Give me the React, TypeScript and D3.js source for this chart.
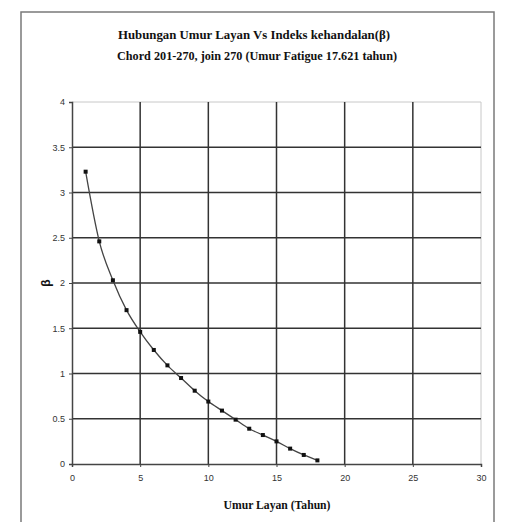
import React, { useRef, useEffect } from 'react';
import * as d3 from 'd3';

const years = [1, 2, 3, 4, 5, 6, 7, 8, 9, 10, 11, 12, 13, 14, 15, 16, 17, 18];
const beta = [3.23, 2.46, 2.03, 1.7, 1.46, 1.26, 1.09, 0.95, 0.81, 0.69, 0.59, 0.49, 0.39, 0.32, 0.25, 0.17, 0.1, 0.04];
const xTicks = [0, 5, 10, 15, 20, 25, 30];
const yTicks = [0, 0.5, 1, 1.5, 2, 2.5, 3, 3.5, 4];

const W = 505;
const H = 522;

const App = () => {
  const svgRef = useRef<SVGSVGElement>(null);

  useEffect(() => {
    const svg = d3.select(svgRef.current);
    svg.selectAll('*').remove();

    const margin = { top: 102, right: 24, bottom: 58, left: 72 };
    const x = d3.scaleLinear().domain([0, 30]).range([margin.left, W - margin.right]);
    const y = d3.scaleLinear().domain([0, 4]).range([H - margin.bottom, margin.top]);

    svg.append('rect').attr('width', W).attr('height', H).attr('fill', '#fff');

    // outer frame
    svg.append('rect')
      .attr('x', 21).attr('y', 12)
      .attr('width', 473).attr('height', 520)
      .attr('fill', 'none')
      .attr('stroke', '#7a7a7a')
      .attr('stroke-width', 1.5);

    // top / right plot border (light)
    svg.append('path')
      .attr('d', `M${x(0)},${y(4)}H${x(30)}V${y(0)}`)
      .attr('fill', 'none')
      .attr('stroke', '#c8c8c8')
      .attr('stroke-width', 1);

    // grid
    svg.append('g').selectAll('line')
      .data(yTicks.filter(d => d > 0 && d < 4))
      .join('line')
      .attr('x1', x(0)).attr('x2', x(30))
      .attr('y1', d => y(d)).attr('y2', d => y(d))
      .attr('stroke', '#333').attr('stroke-width', 1.5);

    svg.append('g').selectAll('line')
      .data(xTicks.filter(d => d > 0 && d < 30))
      .join('line')
      .attr('y1', y(0)).attr('y2', y(4))
      .attr('x1', d => x(d)).attr('x2', d => x(d))
      .attr('stroke', '#333').attr('stroke-width', 1.5);

    // axes
    const yAxis = svg.append('g')
      .attr('transform', `translate(${x(0)},0)`)
      .call(d3.axisLeft(y).tickValues(yTicks).tickSize(3).tickPadding(4).tickFormat(d => String(d)));
    const xAxis = svg.append('g')
      .attr('transform', `translate(0,${y(0)})`)
      .call(d3.axisBottom(x).tickValues(xTicks).tickSize(3).tickPadding(8));
    [yAxis, xAxis].forEach(g => {
      g.select('.domain').attr('stroke', '#444').attr('stroke-width', 1.5);
      g.selectAll('.tick line').attr('stroke', '#444');
      g.selectAll('.tick text')
        .attr('font-family', 'Arial, Liberation Sans, sans-serif')
        .attr('font-size', 9)
        .attr('fill', '#333');
    });

    // series
    const line = d3.line<number>()
      .x((d, i) => x(years[i]))
      .y(d => y(d))
      .curve(d3.curveMonotoneX);

    svg.append('path')
      .datum(beta)
      .attr('fill', 'none')
      .attr('stroke', '#444')
      .attr('stroke-width', 1.3)
      .attr('d', line);

    svg.append('g').selectAll('rect')
      .data(beta)
      .join('rect')
      .attr('x', (d, i) => x(years[i]) - 2)
      .attr('y', d => y(d) - 2)
      .attr('width', 4).attr('height', 4)
      .attr('fill', '#111');

    // titles
    const serif = 'Liberation Serif, Times New Roman, serif';
    svg.append('text')
      .attr('x', 254).attr('y', 39)
      .attr('text-anchor', 'middle')
      .attr('font-family', serif).attr('font-weight', 'bold').attr('font-size', 13)
      .attr('textLength', 272).attr('lengthAdjust', 'spacingAndGlyphs')
      .attr('fill', '#111')
      .text('Hubungan Umur Layan Vs Indeks kehandalan(β)');
    svg.append('text')
      .attr('x', 257).attr('y', 60)
      .attr('text-anchor', 'middle')
      .attr('font-family', serif).attr('font-weight', 'bold').attr('font-size', 13)
      .attr('textLength', 280).attr('lengthAdjust', 'spacingAndGlyphs')
      .attr('fill', '#111')
      .text('Chord 201-270, join 270 (Umur Fatigue 17.621 tahun)');

    svg.append('text')
      .attr('x', 277).attr('y', 509)
      .attr('text-anchor', 'middle')
      .attr('font-family', serif).attr('font-weight', 'bold').attr('font-size', 12)
      .attr('textLength', 107).attr('lengthAdjust', 'spacingAndGlyphs')
      .attr('fill', '#111')
      .text('Umur Layan (Tahun)');

    svg.append('text')
      .attr('transform', `translate(50,${y(2)}) rotate(-90)`)
      .attr('text-anchor', 'middle')
      .attr('font-family', 'Arial, Liberation Sans, sans-serif').attr('font-weight', 'bold').attr('font-size', 12)
      .attr('fill', '#111')
      .text('β');
  }, []);

  return (
    <svg
      ref={svgRef}
      width={W}
      height={H}
      style={{ position: 'absolute', left: 0, top: 0 }}
    />
  );
};

export default App;
